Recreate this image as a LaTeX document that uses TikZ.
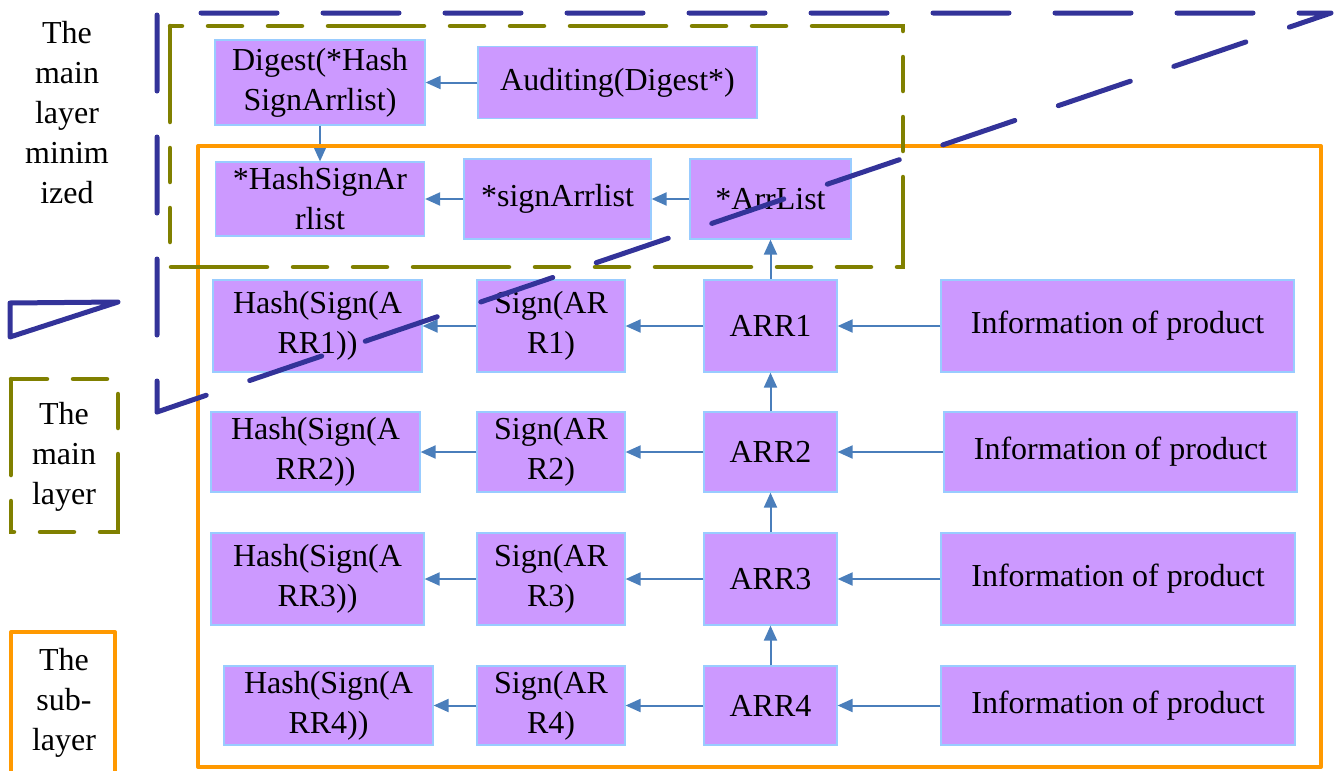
\documentclass[tikz,border=0pt]{standalone}
\usepackage{fontspec}
\setmainfont{Liberation Serif}
\newfontfamily\labelfont{Liberation Serif}
\usetikzlibrary{arrows.meta}

\definecolor{boxfill}{HTML}{CC99FF}
\definecolor{boxline}{HTML}{99CCFF}
\definecolor{arrowblue}{HTML}{4A7EBB}
\definecolor{minblue}{HTML}{333399}
\definecolor{mainolive}{HTML}{808000}
\definecolor{suborange}{HTML}{FF9900}

\begin{document}
\begin{tikzpicture}[x=1pt,y=-1pt,font=\labelfont\fontsize{32}{40}\selectfont,
  box/.style={draw=boxline,line width=1.2pt,fill=boxfill,align=center,inner sep=0pt},
  link/.style={draw=arrowblue,line width=2pt,-{Triangle[length=15pt,width=13pt]}},
  minimized/.style={draw=minblue,line width=5pt,line cap=round,line join=round,dash pattern=on 76pt off 46pt,dash phase=45pt},
  mainlayer/.style={draw=mainolive,line width=4.5pt,line cap=round,dash pattern=on 96pt off 26pt on 34pt off 26pt on 34pt off 26pt},
  sublayer/.style={draw=suborange,line width=4pt,line join=round}]
\useasboundingbox (0,0) rectangle (1339,771);

% legend
\node[align=center] (mintext) at (67,113) {The\\main\\layer\\minim\\ized};
\draw[minblue,line width=5pt,line join=round] (10,303) -- (118,302) -- (10,337) -- cycle;
\draw[mainlayer] (11,379) -- (11,532) -- (118,532) -- (118,379) -- cycle;
\node[align=center] (maintext) at (64,457) {The\\main\\layer};
\draw[sublayer] (11,775) -- (11,632) -- (115,632) -- (115,775);
\node[align=center] (subtext) at (64,703) {The\\sub-\\layer};

% main layer
\node[box,minimum width=210pt,minimum height=85pt] (digest) at (320,82.5) {Digest(*Hash\\SignArrlist)};
\node[box,minimum width=279pt,minimum height=72pt] (audit) at (617.5,82.5) {Auditing(Digest*)};
\node[box,minimum width=209pt,minimum height=74pt] (hashlist) at (320,199) {*HashSignAr\\rlist};
\node[box,minimum width=187pt,minimum height=80pt] (signlist) at (557.5,199) {*signArrlist};
\node[box,minimum width=161pt,minimum height=80pt] (arrlist) at (770.5,199) {*ArrList};

% sub-layer
\node[box,minimum width=209pt,minimum height=92pt] (hash1) at (317.5,326) {Hash(Sign(A\\RR1))};
\node[box,minimum width=148pt,minimum height=92pt] (sign1) at (551,326) {Sign(AR\\R1)};
\node[box,minimum width=133pt,minimum height=92pt] (arr1) at (770.5,326) {ARR1};
\node[box,minimum width=353pt,minimum height=92pt] (info1) at (1117.5,326) {Information of product};

\node[box,minimum width=209pt,minimum height=80pt] (hash2) at (315.5,452) {Hash(Sign(A\\RR2))};
\node[box,minimum width=148pt,minimum height=80pt] (sign2) at (551,452) {Sign(AR\\R2)};
\node[box,minimum width=133pt,minimum height=80pt] (arr2) at (770.5,452) {ARR2};
\node[box,minimum width=353pt,minimum height=80pt] (info2) at (1120.5,452) {Information of product};

\node[box,minimum width=213pt,minimum height=92pt] (hash3) at (317.5,579) {Hash(Sign(A\\RR3))};
\node[box,minimum width=148pt,minimum height=92pt] (sign3) at (551,579) {Sign(AR\\R3)};
\node[box,minimum width=133pt,minimum height=92pt] (arr3) at (770.5,579) {ARR3};
\node[box,minimum width=354pt,minimum height=92pt] (info3) at (1118,579) {Information of product};

\node[box,minimum width=209pt,minimum height=79pt] (hash4) at (328.5,705.5) {Hash(Sign(A\\RR4))};
\node[box,minimum width=148pt,minimum height=79pt] (sign4) at (551,705.5) {Sign(AR\\R4)};
\node[box,minimum width=133pt,minimum height=79pt] (arr4) at (770.5,705.5) {ARR4};
\node[box,minimum width=354pt,minimum height=79pt] (info4) at (1118,705.5) {Information of product};

% arrows
\draw[link] (audit) -- (digest);
\draw[link] (digest) -- (hashlist);
\draw[link] (signlist) -- (hashlist);
\draw[link] (arrlist) -- (signlist);
\draw[link] (arr1) -- (arrlist);
\draw[link] (arr2) -- (arr1);
\draw[link] (arr3) -- (arr2);
\draw[link] (arr4) -- (arr3);
\draw[link] (info1) -- (arr1);
\draw[link] (arr1) -- (sign1);
\draw[link] (sign1) -- (hash1);
\draw[link] (info2) -- (arr2);
\draw[link] (arr2) -- (sign2);
\draw[link] (sign2) -- (hash2);
\draw[link] (info3) -- (arr3);
\draw[link] (arr3) -- (sign3);
\draw[link] (sign3) -- (hash3);
\draw[link] (info4) -- (arr4);
\draw[link] (arr4) -- (sign4);
\draw[link] (sign4) -- (hash4);

% layer frames
\draw[sublayer] (198,146) rectangle (1321,767);
\draw[mainlayer] (170,26) -- (170,267) -- (903,267) -- (903,26) -- cycle;
\draw[minimized] (157,412) -- (157,13) -- (1331,13) -- cycle;
\end{tikzpicture}
\end{document}
